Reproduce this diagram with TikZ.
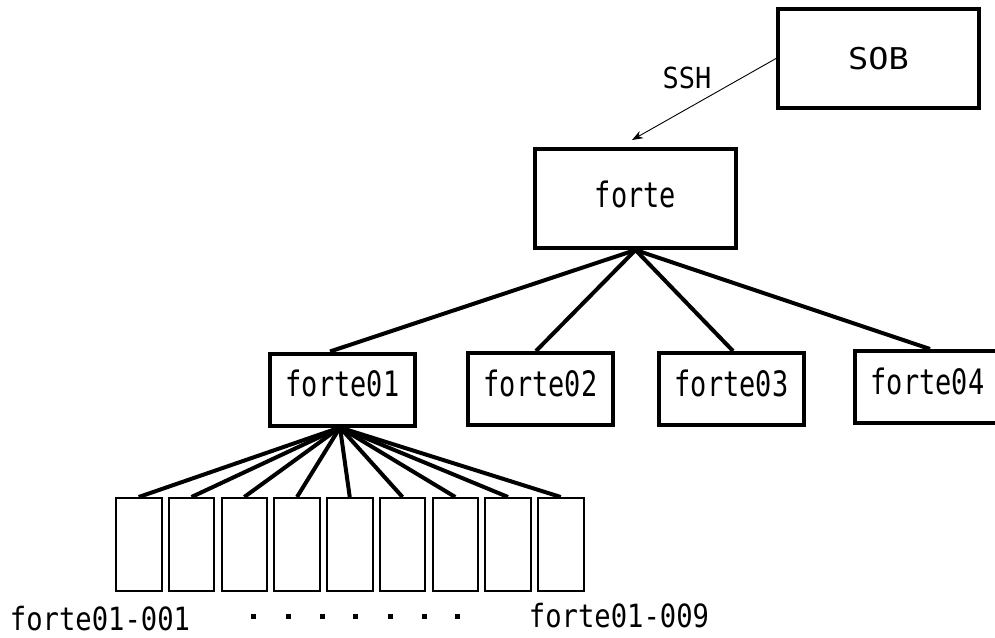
\documentclass[tikz,border=0pt]{standalone}
\usepackage{fontspec}
\usepackage{graphicx}
\usetikzlibrary{arrows.meta}
\newfontfamily\gothmono{DejaVu Sans Mono}
% narrow monospaced text: horizontal factor, size, text
\newcommand\narrowlabel[3]{\scalebox{#1}[1]{\gothmono\fontsize{#2}{#2}\selectfont #3}}
\begin{document}
\begin{tikzpicture}[x=1pt,y=-1pt,
  hostbox/.style={draw, line width=4pt, minimum width=145pt, minimum height=72pt,
    inner sep=0pt, text height=17pt, text depth=3pt},
  topbox/.style={hostbox, minimum width=201pt, minimum height=99pt,
    text height=20pt, text depth=3pt},
  childbox/.style={draw, line width=2pt, minimum width=45.5pt, minimum height=93pt, inner sep=0pt},
  link/.style={line width=4pt},
  sshlink/.style={line width=0.9pt, -{Stealth[length=11pt,width=8pt]}},
  plainlabel/.style={inner sep=0pt},
  dotmark/.style={fill=black, minimum size=5pt, inner sep=0pt}]
\useasboundingbox (0,0) rectangle (995,637);

% top level hosts
\node[topbox, text height=22pt, text depth=0pt] (sob) at (878.5,58.5) {\narrowlabel{1.12}{30}{SOB}};
\node[topbox] (forte) at (635.5,198.5) {\narrowlabel{0.77}{35}{forte}};

% second level
\node[hostbox] (f1) at (342.5,389.5) {\narrowlabel{0.77}{35}{forte01}};
\node[hostbox] (f2) at (540.5,389) {\narrowlabel{0.77}{35}{forte02}};
\node[hostbox] (f3) at (731.5,389) {\narrowlabel{0.77}{35}{forte03}};
\node[hostbox] (f4) at (927.5,387) {\narrowlabel{0.77}{35}{forte04}};

% compute nodes under forte01
\foreach \i in {1,...,9}
  \node[childbox] (c\i) at ({138.75+52.75*(\i-1)},544.5) {};

% SSH connection
\draw[sshlink] (sob.west) -- ([xshift=-3.5pt,yshift=7pt]forte.north);
\node[plainlabel] (ssh) at (687,77.5) {\narrowlabel{0.93}{29}{SSH}};

% tree links
\draw[link] (forte.south) -- ([xshift=-12.5pt]f1.north);
\draw[link] (forte.south) -- ([xshift=-4.5pt]f2.north);
\draw[link] (forte.south) -- ([xshift=1.5pt]f3.north);
\draw[link] (forte.south) -- ([xshift=2.5pt]f4.north);
\foreach \i in {1,...,9}
  \draw[link] ([xshift=-2.5pt]f1.south) -- (c\i.north);

% labels of the first and last compute nodes
\node[plainlabel] (lab1) at (100,619) {\narrowlabel{0.85}{32}{forte01-001}};
\node[plainlabel] (lab9) at (619,615.5) {\narrowlabel{0.85}{32}{forte01-009}};

% ellipsis between the labels
\foreach \x [count=\k] in {253,288,322,355,390,424,457}
  \node[dotmark] (dot\k) at (\x,616) {};
\end{tikzpicture}
\end{document}
